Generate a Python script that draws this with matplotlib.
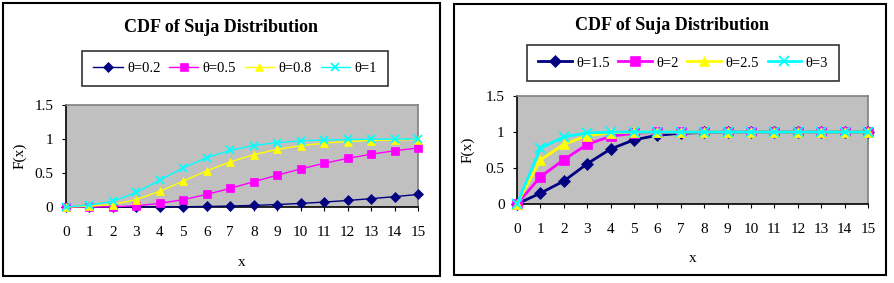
import numpy as np
import matplotlib.pyplot as plt
from matplotlib.patches import Rectangle

plt.rcParams['font.family'] = ['Liberation Serif', 'DejaVu Serif']

x = list(range(16))

# left panel, small theta
theta_left = ['\u03b8=0.2', '\u03b8=0.5', '\u03b8=0.8', '\u03b8=1']
F_02 = [0, 0.0000, 0.0001, 0.0004, 0.0014, 0.0037, 0.0077, 0.0143, 0.0237, 0.0364,
        0.0527, 0.0725, 0.0959, 0.1226, 0.1523, 0.1847]
F_05 = [0, 0.0002, 0.0037, 0.0186, 0.0527, 0.1088, 0.1847, 0.2746, 0.3712, 0.4679,
        0.5595, 0.6425, 0.7149, 0.7763, 0.8270, 0.8679]
F_08 = [0, 0.0106, 0.0367, 0.1095, 0.2318, 0.3814, 0.5316, 0.6635, 0.7688, 0.8471,
        0.9020, 0.9389, 0.9628, 0.9778, 0.9870, 0.9925]
F_10 = [0, 0.0288, 0.0851, 0.2154, 0.3956, 0.5769, 0.7262, 0.8339, 0.9043, 0.9472,
        0.9719, 0.9855, 0.9927, 0.9964, 0.9983, 0.9992]

# right panel, larger theta
theta_right = ['\u03b8=1.5', '\u03b8=2', '\u03b8=2.5', '\u03b8=3']
F_15 = [0, 0.1507, 0.3181, 0.5587, 0.7642, 0.8908, 0.9546, 0.9826, 0.9937, 0.9978,
        0.9993, 0.9998, 0.9999, 1.0, 1.0, 1.0]
F_20 = [0, 0.3775, 0.6154, 0.8280, 0.9401, 0.9824, 0.9954, 0.9989, 0.9998, 1.0,
        1.0, 1.0, 1.0, 1.0, 1.0, 1.0]
F_25 = [0, 0.6100, 0.8282, 0.9494, 0.9888, 0.9980, 0.9997, 1.0, 1.0, 1.0,
        1.0, 1.0, 1.0, 1.0, 1.0, 1.0]
F_30 = [0, 0.7752, 0.9329, 0.9873, 0.9983, 0.9998, 1.0, 1.0, 1.0, 1.0,
        1.0, 1.0, 1.0, 1.0, 1.0, 1.0]

colors = ['#000080', '#FF00FF', '#FFFF00', '#00FFFF']
markers = ['D', 's', '^', 'x']

W, H = 894, 283
fig = plt.figure(figsize=(W / 100, H / 100), dpi=100)

# panel frames
for (x0, y0, x1, y1) in [(3, 3, 440, 276), (454, 4, 886, 275)]:
    fig.patches.append(Rectangle((x0 / W, 1 - y1 / H), (x1 - x0) / W, (y1 - y0) / H,
                                 transform=fig.transFigure, fill=False,
                                 edgecolor='black', linewidth=1.5))


def panel(rect, series, labels, lw, ms, hl, title_xy, leg_xy, ylab_x, xlab_y):
    ax = fig.add_axes(rect)
    ax.set_facecolor('#C0C0C0')
    for i, s in enumerate(series):
        ax.plot(x, s, color=colors[i], marker=markers[i],
                markersize=ms * (0.85 if markers[i] == 'D' else 1),
                markeredgewidth=1.3 if markers[i] == 'x' else 0.5,
                markeredgecolor=colors[i], linewidth=lw, label=labels[i],
                clip_on=False, zorder=3 + i)
    ax.set_xlim(0, 15)
    ax.set_ylim(0, 1.5)
    ax.set_xticks(x)
    ax.set_yticks([0, 0.5, 1, 1.5])
    ax.set_yticklabels(['0', '0.5', '1', '1.5'])
    ax.tick_params(axis='x', length=3, pad=11, labelsize=11, direction='out')
    ax.tick_params(axis='y', length=3, pad=6, labelsize=11, direction='out')
    for sp in ['top', 'right']:
        ax.spines[sp].set_color('#808080')
        ax.spines[sp].set_linewidth(1.2)
    for sp in ['left', 'bottom']:
        ax.spines[sp].set_color('black')
        ax.spines[sp].set_linewidth(1.2)
    fig.text(title_xy[0] / W, 1 - title_xy[1] / H, 'CDF of Suja Distribution',
             ha='center', va='center', fontsize=13, fontweight='bold')
    fig.text(ylab_x / W, rect[1] + rect[3] / 2, 'F(x)', rotation=90,
             ha='center', va='center', fontsize=11)
    fig.text(rect[0] + rect[2] / 2, 1 - xlab_y / H, 'x',
             ha='center', va='center', fontsize=11)
    leg = ax.legend(loc='center', bbox_to_anchor=(leg_xy[0] / W, 1 - leg_xy[1] / H),
                    bbox_transform=fig.transFigure, ncol=4, fontsize=10.5,
                    frameon=True, fancybox=False, edgecolor='black',
                    handlelength=hl, columnspacing=0.6, handletextpad=0.3,
                    borderpad=0.75, borderaxespad=0)
    leg.get_frame().set_linewidth(1.2)
    return ax


panel([66 / W, 1 - 207 / H, (418 - 66) / W, (207 - 105) / H],
      [F_02, F_05, F_08, F_10], theta_left, 1.0, 6, 2.0,
      (221, 27), (235, 68.5), 20, 262)
panel([517 / W, 1 - 204 / H, (868 - 517) / W, (204 - 96) / H],
      [F_15, F_20, F_25, F_30], theta_right, 2.0, 7.5, 2.3,
      (672, 25), (683, 63), 468, 258)

fig.savefig('out.png', dpi=100)
